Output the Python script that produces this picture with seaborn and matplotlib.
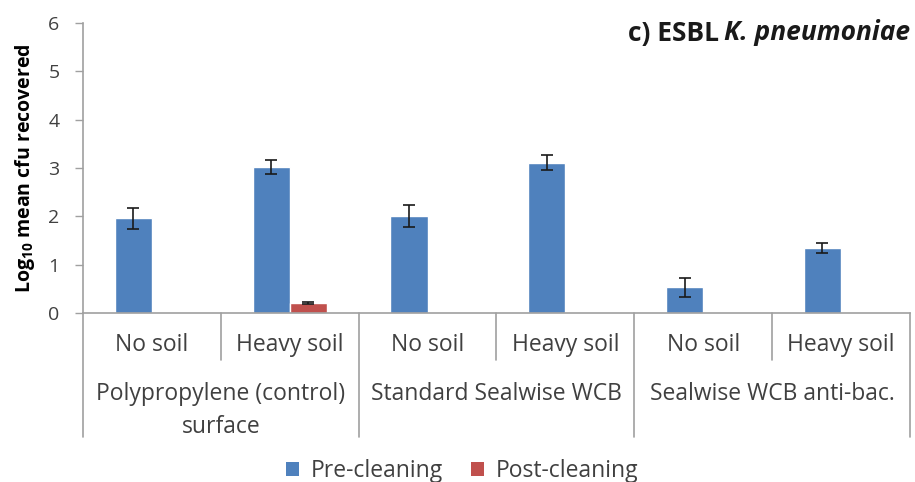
import matplotlib
matplotlib.use("Agg")
import matplotlib.pyplot as plt
import seaborn as sns
import pandas as pd
import numpy as np
from matplotlib.patches import Patch

# ---- data -------------------------------------------------------------
surfaces = ["Polypropylene (control)\nsurface", "Standard Sealwise WCB", "Sealwise WCB anti-bac."]
soil_levels = ["No soil", "Heavy soil"]
pre_cleaning = [1.96, 3.02, 2.01, 3.11, 0.53, 1.35]
pre_err = [0.22, 0.15, 0.23, 0.16, 0.20, 0.10]
post_cleaning = [0.0, 0.20, 0.0, 0.02, 0.0, 0.0]
post_err = [0.0, 0.02, 0.0, 0.0, 0.0, 0.0]
series = ["Pre-cleaning", "Post-cleaning"]
colors = ["#4F81BD", "#C0504D"]

# ---- styling ----------------------------------------------------------
sns.set_style("white")
plt.rcParams["font.family"] = ["Open Sans", "DejaVu Sans"]
plt.rcParams["mathtext.fontset"] = "custom"
plt.rcParams["mathtext.rm"] = "Open Sans"
plt.rcParams["mathtext.bf"] = "Open Sans:bold"
text_color = "#404040"
axis_color = "#A0A0A0"
label_size = 16.5

cats = [f"{s}|{l}" for s in range(len(surfaces)) for l in soil_levels]
df = pd.DataFrame({
    "cat": cats * 2,
    "series": [series[0]] * 6 + [series[1]] * 6,
    "value": pre_cleaning + post_cleaning,
})

fig = plt.figure(figsize=(9.15, 4.82), dpi=100)
ax = fig.add_axes([83 / 915, 1 - 313 / 482, (910 - 83) / 915, (313 - 23) / 482])

sns.barplot(data=df, x="cat", y="value", hue="series", palette=colors,
            width=0.54, saturation=1, legend=False, ax=ax, zorder=2)

# error bars on each bar, positioned from the drawn bars
for cont, errs in zip(ax.containers, [pre_err, post_err]):
    xs = [p.get_x() + p.get_width() / 2 for p in cont.patches]
    hs = [p.get_height() for p in cont.patches]
    for x, h, e in zip(xs, hs, errs):
        if e > 0:
            ax.errorbar(x, h, yerr=e, fmt="none", ecolor="#1a1a1a",
                        elinewidth=1.2, capsize=4.5, capthick=1.2, zorder=3)

ax.set_xlim(-0.5, 5.5)
ax.set_ylim(0, 6)
ax.set_yticks(range(7))
ax.tick_params(axis="y", which="both", left=True, length=6, width=1,
               color=axis_color, labelsize=14, labelcolor=text_color, pad=11)
ax.set_xticks([])
ax.set_xlabel("")
ax.set_ylabel(r"Log$_{\mathbf{10}}$ mean cfu recovered", fontsize=14,
              fontweight="bold", color="black", labelpad=8)
for side in ["top", "right"]:
    ax.spines[side].set_visible(False)
for side in ["left", "bottom"]:
    ax.spines[side].set_color(axis_color)
    ax.spines[side].set_linewidth(1.2)

# multi-level category axis
axh = 313 - 23
trans = ax.get_xaxis_transform()
for i, c in enumerate(cats):
    ax.text(i, -(345 - 313) / axh, c.split("|")[1], transform=trans,
            ha="center", va="center", fontsize=label_size, color=text_color, clip_on=False)
for i in range(len(surfaces)):
    ax.text(2 * i + 0.5, -(382 - 313) / axh, surfaces[i], transform=trans,
            ha="center", va="top", fontsize=label_size, color=text_color,
            linespacing=1.5, clip_on=False)
for k in range(7):
    bottom = 437 if k % 2 == 0 else 360
    ax.plot([k - 0.5, k - 0.5], [0, -(bottom - 313) / axh], transform=trans,
            color=axis_color, lw=1.2, clip_on=False)

# title with italic species name
fig.canvas.draw()
t2 = fig.text(910 / 915, 1 - 33 / 482, "K. pneumoniae", ha="right", va="center",
              fontsize=19, fontweight="bold", fontstyle="italic", color="#1a1a1a")
fig.canvas.draw()
bb = t2.get_window_extent()
fig.text((bb.x0 - 5) / 915, 1 - 33 / 482, "c) ESBL", ha="right", va="center",
         fontsize=19, fontweight="bold", color="#1a1a1a")

handles = [Patch(facecolor=c, edgecolor="none", label=s) for c, s in zip(colors, series)]
fig.legend(handles=handles, loc="center", bbox_to_anchor=(462 / 915, 1 - 471 / 482),
           ncol=2, frameon=False, fontsize=label_size, handlelength=0.6, handleheight=0.6,
           handletextpad=0.5, columnspacing=1.2, labelcolor=text_color)

fig.savefig("out.png", dpi=100)
